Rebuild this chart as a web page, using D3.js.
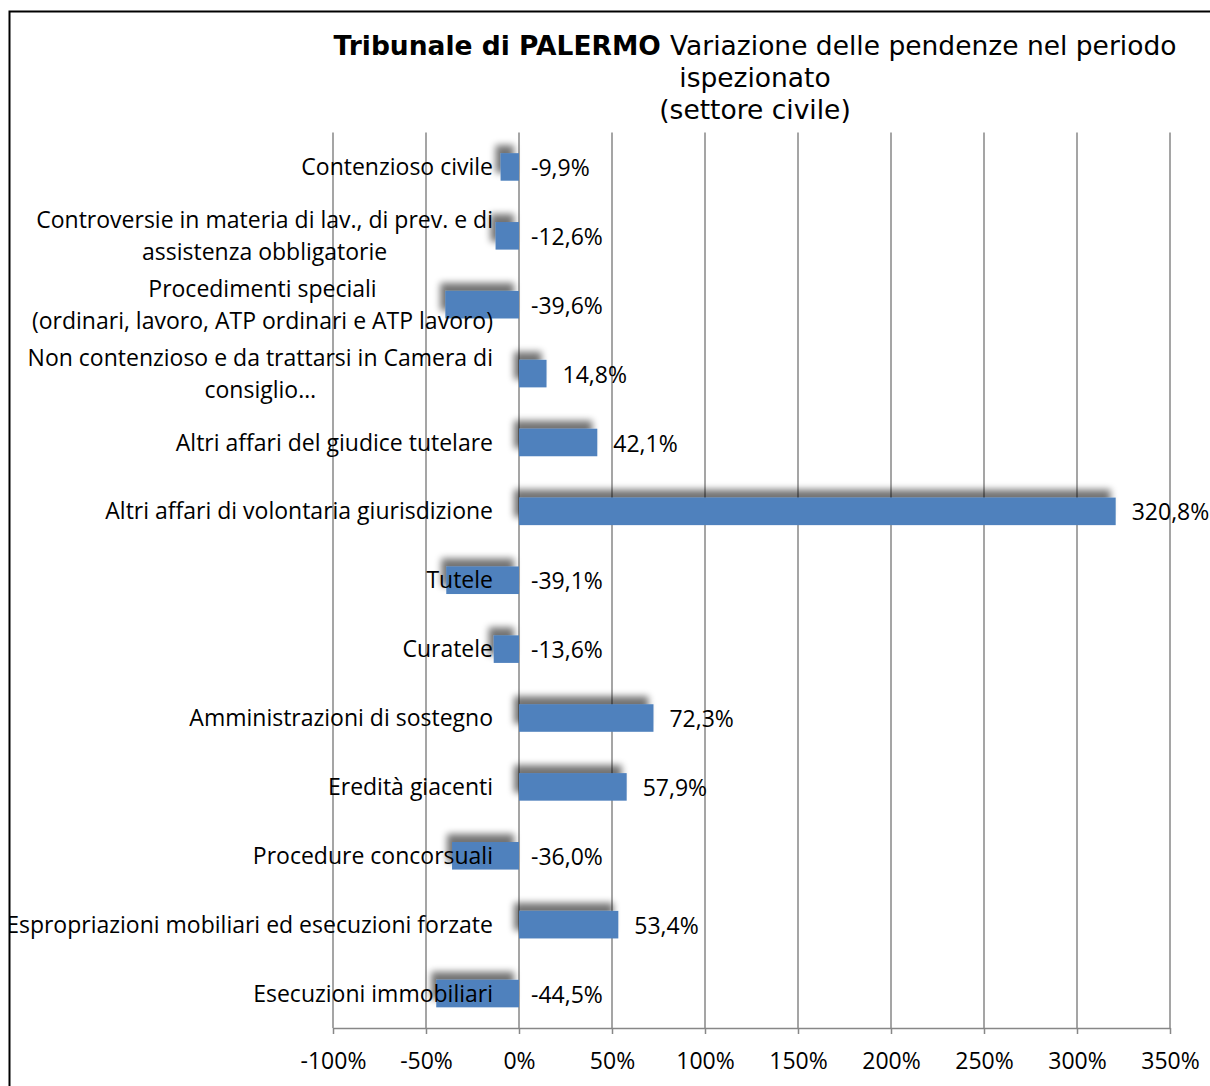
<!DOCTYPE html>
<html>
<head>
<meta charset="utf-8">
<script src="https://cdn.jsdelivr.net/npm/d3@7"></script>
<style>
  body { margin: 0; background: #fff; }
  svg { display: block; }
</style>
</head>
<body>
<svg width="1210" height="1086"></svg>
<script>
// Chart data
const categories = [
    ["Contenzioso civile"],
    ["Controversie in materia di lav., di prev. e di", "assistenza obbligatorie"],
    ["Procedimenti speciali", "(ordinari, lavoro, ATP ordinari e ATP lavoro)"],
    ["Non contenzioso e da trattarsi in Camera di", "consiglio…"],
    ["Altri affari del giudice tutelare"],
    ["Altri affari di volontaria giurisdizione"],
    ["Tutele"],
    ["Curatele"],
    ["Amministrazioni di sostegno"],
    ["Eredità giacenti"],
    ["Procedure concorsuali"],
    ["Espropriazioni mobiliari ed esecuzioni forzate"],
    ["Esecuzioni immobiliari"]
];
const values = [-9.9, -12.6, -39.6, 14.8, 42.1, 320.8, -39.1, -13.6, 72.3, 57.9, -36.0, 53.4, -44.5];
const tickValues = [-100, -50, 0, 50, 100, 150, 200, 250, 300, 350];
const titleBold = "Tribunale di PALERMO";
const titleLines = ["Variazione delle pendenze nel periodo", "ispezionato", "(settore civile)"];

const svg = d3.select("svg"),
    width = +svg.attr("width"),
    height = +svg.attr("height");

const LABELFONT = "'Open Sans', Lato, sans-serif";
const LABELSIZE = 23;
const BLUE = "#4f81bd";

// Plot area
const plot = {left: 333, right: 1170, top: 132.5, bottom: 1028};

const x = d3.scaleLinear().domain([-100, 350]).range([plot.left, plot.right]);
const y = d3.scaleBand().domain(d3.range(values.length)).range([plot.top, plot.bottom]).paddingInner(0.6).paddingOuter(0.3);

// Soft shadow behind the bars (up and to the left)
const defs = svg.append("defs");
const f = defs.append("filter").attr("id", "shadow")
    .attr("filterUnits", "userSpaceOnUse")
    .attr("x", 0).attr("y", 0).attr("width", width).attr("height", height);
f.append("feGaussianBlur").attr("in", "SourceAlpha").attr("stdDeviation", 3.5);
f.append("feOffset").attr("dx", -5).attr("dy", -8);
f.append("feComponentTransfer").append("feFuncA").attr("type", "linear").attr("slope", 0.55);
let merge = f.append("feMerge");
merge.append("feMergeNode");
merge.append("feMergeNode").attr("in", "SourceGraphic");

defs.append("clipPath").attr("id", "frame")
  .append("rect").attr("x", 10).attr("y", 12).attr("width", width).attr("height", height);

const g = svg.append("g").attr("clip-path", "url(#frame)");

// Gridlines
g.append("g").selectAll("line")
    .data(tickValues)
    .enter().append("line")
    .attr("x1", d => x(d)).attr("x2", d => x(d))
    .attr("y1", plot.top).attr("y2", plot.bottom)
    .attr("stroke", "#878787").attr("stroke-width", 1.5);

// Bottom axis
const axis = g.append("g").attr("transform", "translate(0," + plot.bottom + ")")
    .call(d3.axisBottom(x).tickValues(tickValues).tickSizeInner(6).tickSizeOuter(0).tickPadding(19).tickFormat(d => d + "%"));
axis.select(".domain").attr("stroke", "#878787").attr("stroke-width", 1.5);
axis.selectAll(".tick line").attr("stroke", "#878787").attr("stroke-width", 1.5);
axis.selectAll(".tick text")
    .attr("font-family", LABELFONT).attr("font-size", LABELSIZE).attr("fill", "#000");

// Bars
g.append("g").selectAll("rect")
    .data(values)
    .enter().append("rect")
    .attr("x", d => x(Math.min(0, d)))
    .attr("width", d => Math.abs(x(d) - x(0)))
    .attr("y", (d, i) => y(i))
    .attr("height", y.bandwidth())
    .attr("fill", BLUE)
    .attr("filter", "url(#shadow)");

// Value labels
g.append("g").selectAll("text")
    .data(values)
    .enter().append("text")
    .attr("x", d => d > 0 ? x(d) + 16 : x(0) + 12)
    .attr("y", (d, i) => y(i) + y.bandwidth() / 2 + 1)
    .attr("dy", "0.35em")
    .attr("font-family", LABELFONT).attr("font-size", LABELSIZE)
    .text(d => d.toFixed(1).replace(".", ",") + "%");

// Category labels, lines centred inside a right-aligned block
const LABELRIGHT = 493, LINEH = 32;
categories.forEach(function(lines, i) {
    let cy = y(i) + y.bandwidth() / 2;
    let t = g.append("text")
        .attr("font-family", LABELFONT).attr("font-size", LABELSIZE)
        .attr("text-anchor", "middle");
    let spans = lines.map(function(line, j) {
        return t.append("tspan")
            .attr("y", cy + (j - (lines.length - 1) / 2) * LINEH)
            .attr("dy", "0.35em")
            .text(line);
    });
    let w = d3.max(spans, s => s.node().getComputedTextLength());
    spans.forEach(s => s.attr("x", LABELRIGHT - w / 2));
});

// Title
const title = svg.append("text")
    .attr("font-family", "'DejaVu Sans', Verdana, sans-serif")
    .attr("font-size", 26.5)
    .attr("text-anchor", "middle");
let first = title.append("tspan").attr("x", 755).attr("y", 46).attr("dy", "0.35em");
first.append("tspan").attr("font-weight", "bold").text(titleBold + " ");
first.append("tspan").text(titleLines[0]);
title.append("tspan").attr("x", 755).attr("y", 78).attr("dy", "0.35em").text(titleLines[1]);
title.append("tspan").attr("x", 755).attr("y", 110).attr("dy", "0.35em").text(titleLines[2]);

// Frame
svg.append("rect")
    .attr("x", 9.5).attr("y", 11.5)
    .attr("width", width + 20).attr("height", height + 20)
    .attr("fill", "none").attr("stroke", "#000").attr("stroke-width", 2);
</script>
</body>
</html>
